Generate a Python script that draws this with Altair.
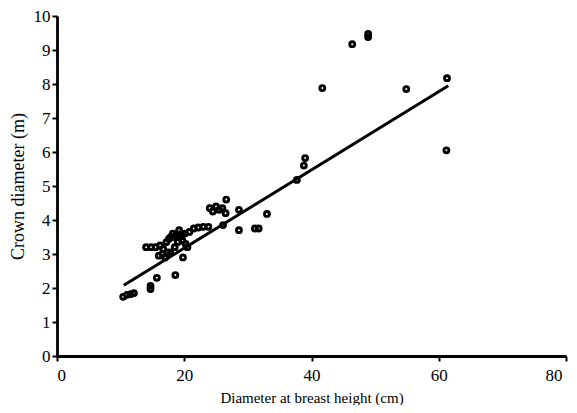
import altair as alt
import pandas as pd

dbh = [10.4, 11.0, 11.6, 12.1, 14.7, 14.7, 15.7, 18.6, 19.8,
       14.0, 14.8, 15.5, 16.2, 16.7, 17.2, 17.6, 17.9, 18.3, 18.8, 19.3, 19.6, 20.1,
       16.0, 16.6, 17.3, 17.8, 18.5, 19.0, 19.7, 20.2, 20.5, 17.0, 18.2, 19.2,
       20.8, 21.5, 22.2, 23.0, 23.8,
       24.0, 24.5, 25.0, 25.5, 26.0, 26.5, 26.6, 28.6, 26.1, 28.6, 31.1, 31.7, 33.0,
       37.7, 38.8, 39.0, 41.7, 46.4, 48.9, 48.9, 54.9, 61.3, 61.2]
crown = [1.74, 1.80, 1.82, 1.85, 1.97, 2.06, 2.30, 2.38, 2.90,
         3.20, 3.20, 3.20, 3.25, 3.15, 3.35, 3.45, 3.50, 3.50, 3.55, 3.50, 3.60, 3.60,
         2.95, 3.00, 3.05, 3.05, 3.20, 3.35, 3.40, 3.30, 3.20, 2.90, 3.60, 3.70,
         3.65, 3.75, 3.78, 3.80, 3.80,
         4.35, 4.25, 4.40, 4.30, 4.35, 4.20, 4.60, 4.30, 3.85, 3.70, 3.75, 3.75, 4.18,
         5.18, 5.60, 5.82, 7.88, 9.17, 9.38, 9.47, 7.85, 8.17, 6.05]

# fitted regression line endpoints
fit_dbh = [10.5, 61.5]
fit_crown = [2.08, 7.95]

x_ticks = [0, 20, 40, 60, 80]
y_ticks = list(range(0, 11))

df = pd.DataFrame({"dbh": dbh, "crown": crown})
fit = pd.DataFrame({"dbh": fit_dbh, "crown": fit_crown})

FONT = "Liberation Serif"

x = alt.X("dbh:Q", scale=alt.Scale(domain=[0, 80], nice=False, zero=True),
          axis=alt.Axis(values=x_ticks, title="Diameter at breast height (cm)",
                        grid=False, format="d", labelPadding=6, titlePadding=7,
                        titleFontSize=15,
                        labelOffset={"expr": "datum.value == 80 ? -4 : 0"}))
y = alt.Y("crown:Q", scale=alt.Scale(domain=[0, 10], nice=False),
          axis=alt.Axis(values=y_ticks, title="Crown diameter (m)",
                        grid=False, format="d", labelPadding=2, titlePadding=6,
                        titleFontSize=18))

points = alt.Chart(df).mark_point(shape="circle", filled=False, color="black",
                                  strokeWidth=2.9, size=24, opacity=1).encode(x=x, y=y)

line = alt.Chart(fit).mark_line(color="black", strokeWidth=3).encode(x=x, y=y)

chart = (line + points).properties(
    width=509, height=340,
    autosize=alt.AutoSizeParams(type="none"),
    padding={"left": 49, "top": 8, "right": 3, "bottom": 49},
).configure_view(stroke=None).configure_axis(
    domainColor="black", domainWidth=2.8, tickColor="black", tickWidth=2, tickSize=5,
    labelFont=FONT, labelFontSize=17, labelColor="black",
    titleFont=FONT, titleFontWeight="normal", titleColor="black",
)

chart.save("out.html", embed_options={"renderer": "svg", "actions": False})
